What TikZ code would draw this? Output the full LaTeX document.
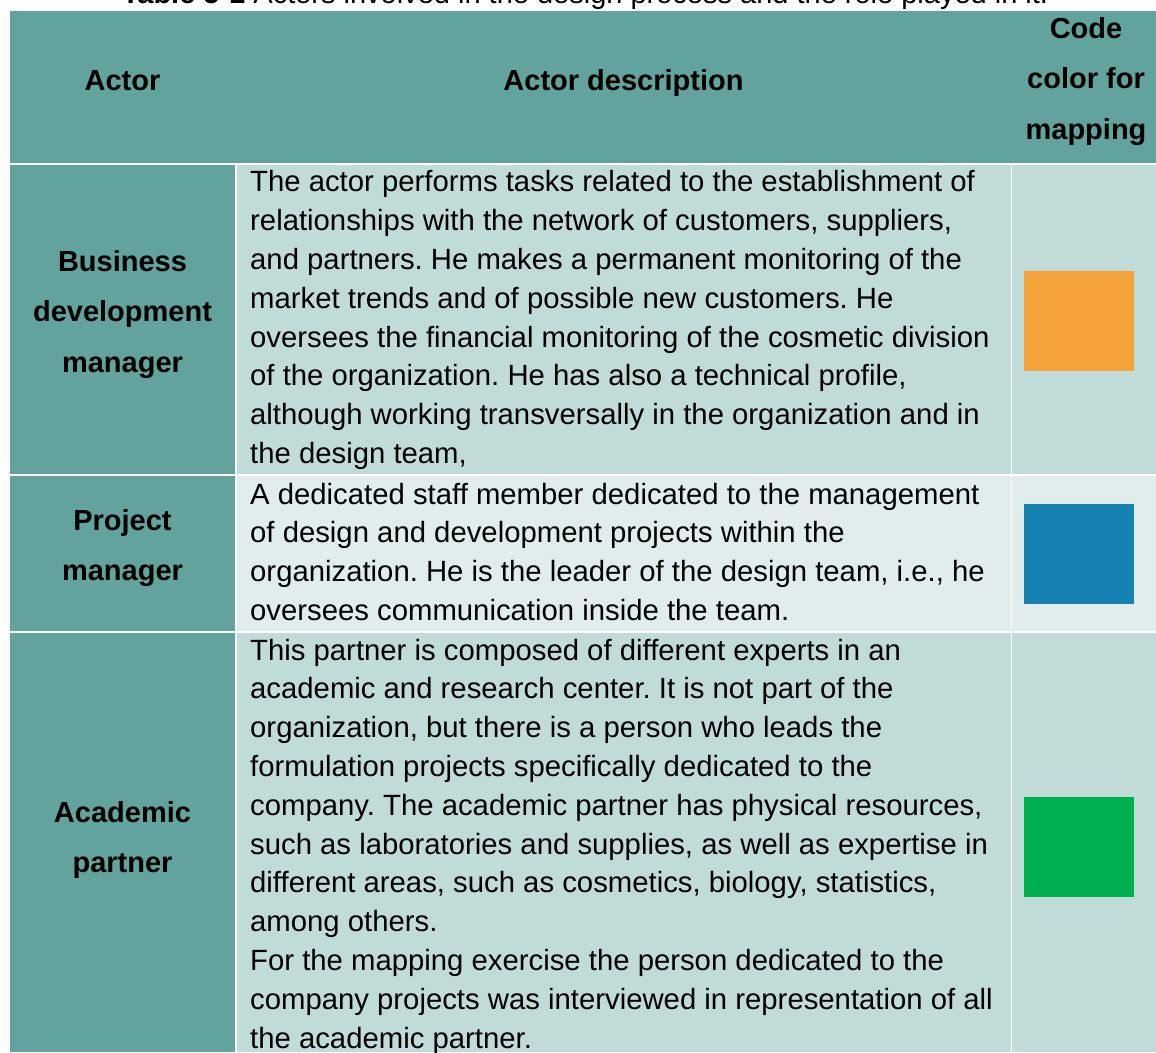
\documentclass[tikz,border=0pt]{standalone}
\usepackage{fontspec}
\setmainfont{Liberation Sans}
\usepackage{xcolor}
\usetikzlibrary{positioning}
\frenchspacing

\definecolor{tealhead}{HTML}{63A39E}
\definecolor{rowlight}{HTML}{C1DBD9}
\definecolor{rowpale}{HTML}{E1EDED}
\definecolor{codeorange}{HTML}{F4A23A}
\definecolor{codeblue}{HTML}{1581B1}
\definecolor{codegreen}{HTML}{00B050}

\begin{document}
\begin{tikzpicture}[
				x=1pt,y=-1pt,
				cell/.style={rectangle,inner sep=0pt,anchor=north west},
				actor/.style={font=\bfseries\fontsize{29}{50.6}\selectfont,align=center,inner sep=0pt,anchor=base},
				desc/.style={font=\fontsize{29.3}{38.8}\selectfont,align=left,inner sep=0pt,anchor=base west},
				swatch/.style={rectangle,inner sep=0pt,minimum width=110pt,minimum height=100pt}
				]
				
				% Sfondo e margini
				\fill[white] (0,0) rectangle (1156,1052);
				\useasboundingbox (0,0) rectangle (1156,1052);
				
				% Titolo
				\node[inner sep=0pt,anchor=base,font=\fontsize{29}{34}\selectfont] (caption) at (585,3) {\textbf{Table 5-1} Actors involved in the design process and the role played in it.};
				
				% Celle
				\node[cell,fill=tealhead,minimum width=1146pt,minimum height=151.7pt] (head) at (10,11) {};
				\node[cell,fill=tealhead,minimum width=225pt,minimum height=308.5pt] (bdmcell) at (10,165) {};
				\node[cell,fill=rowlight,minimum width=773.5pt,minimum height=308.5pt] (bdmdesc) at (237,165) {};
				\node[cell,fill=rowlight,minimum width=144pt,minimum height=308.5pt] (bdmcode) at (1012,165) {};
				\node[cell,fill=tealhead,minimum width=225pt,minimum height=155pt] (pmcell) at (10,476) {};
				\node[cell,fill=rowpale,minimum width=773.5pt,minimum height=155pt] (pmdesc) at (237,476) {};
				\node[cell,fill=rowpale,minimum width=144pt,minimum height=155pt] (pmcode) at (1012,476) {};
				\node[cell,fill=tealhead,minimum width=225pt,minimum height=419pt] (apcell) at (10,633) {};
				\node[cell,fill=rowlight,minimum width=773.5pt,minimum height=419pt] (apdesc) at (237,633) {};
				\node[cell,fill=rowlight,minimum width=144pt,minimum height=419pt] (apcode) at (1012,633) {};
				
				% Intestazione (ancora sulla base dell'ultima riga)
				\node[actor] (hactor) at (122.5,90) {Actor};
				\node[actor] (hdesc) at (623.5,90) {Actor description};
				\node[actor] (hcode) at (1086,139.2) {Code\\color for\\mapping};
				
				% Attori
				\node[actor] (bdm) at (122.5,372.2) {Business\\development\\manager};
				\node[actor] (pm) at (122.5,580.6) {Project\\manager};
				\node[actor] (ap) at (122.5,872.6) {Academic\\partner};
				
				% Descrizioni
				\node[desc] (bdmtext) at (250,463.5) {The actor performs tasks related to the establishment of\\relationships with the network of customers, suppliers,\\and partners. He makes a permanent monitoring of the\\market trends and of possible new customers. He\\oversees the financial monitoring of the cosmetic division\\of the organization. He has also a technical profile,\\although working transversally in the organization and in\\the design team,};
				\node[desc] (pmtext) at (250,620.4) {A dedicated staff member dedicated to the management\\of design and development projects within the\\organization. He is the leader of the design team, i.e., he\\oversees communication inside the team.};
				\node[desc] (aptext) at (250,1048) {This partner is composed of different experts in an\\academic and research center. It is not part of the\\organization, but there is a person who leads the\\formulation projects specifically dedicated to the\\company. The academic partner has physical resources,\\such as laboratories and supplies, as well as expertise in\\different areas, such as cosmetics, biology, statistics,\\among others.\\For the mapping exercise the person dedicated to the\\company projects was interviewed in representation of all\\the academic partner.};
				
				% Colori di codifica
				\node[swatch,fill=codeorange] (bdmswatch) at (1079,321) {};
				\node[swatch,fill=codeblue] (pmswatch) at (1079,554) {};
				\node[swatch,fill=codegreen] (apswatch) at (1079,847) {};
				
			\end{tikzpicture}
\end{document}
